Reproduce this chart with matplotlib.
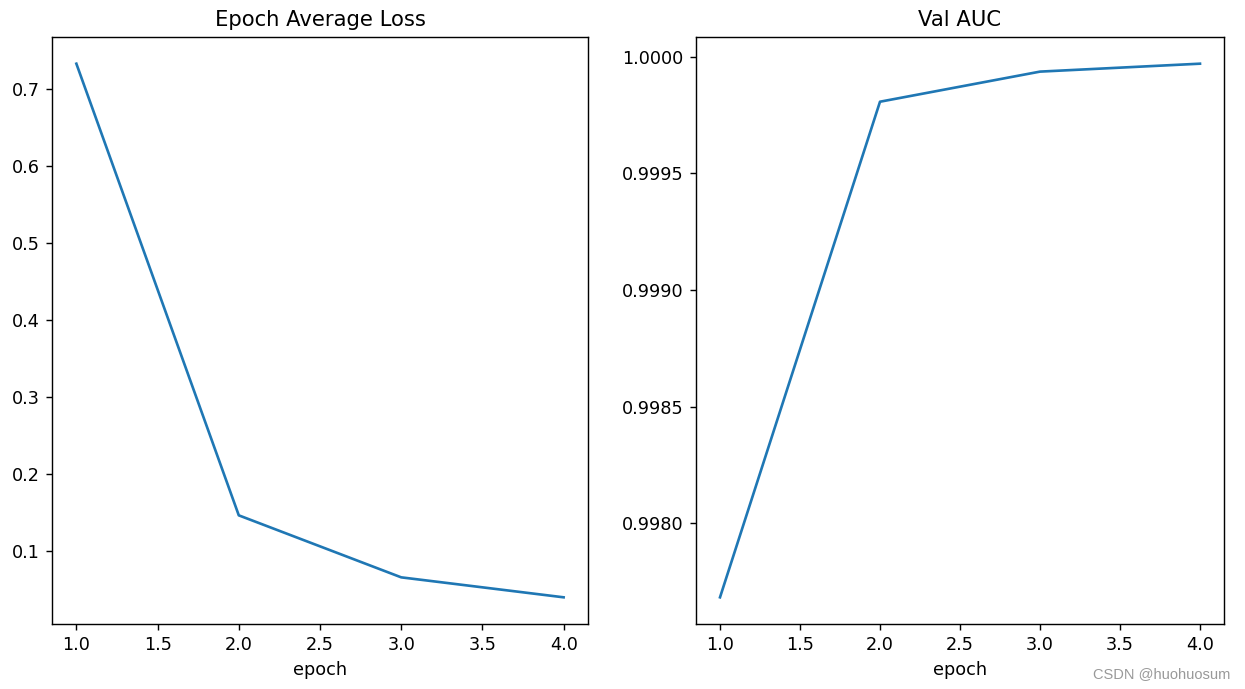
import matplotlib.pyplot as plt

epochs = [1, 2, 3, 4]
epoch_loss = [0.7324, 0.1467, 0.0663, 0.0404]
val_auc = [0.997683, 0.999807, 0.999936, 0.999970]

W, H = 1245, 689
fig = plt.figure(figsize=(W / 127, H / 127), dpi=127)

bottom = 1 - 624 / H
height = (624 - 37) / H

ax1 = fig.add_axes([52 / W, bottom, (588 - 52) / W, height])
ax1.set_title("Epoch Average Loss")
ax1.plot(epochs, epoch_loss)
ax1.set_xlabel("epoch")

ax2 = fig.add_axes([696 / W, bottom, (1224 - 696) / W, height])
ax2.set_title("Val AUC")
ax2.plot(epochs, val_auc)
ax2.set_xlabel("epoch")
ax2.ticklabel_format(useOffset=False)

fig.text(0.988, 0.022, "CSDN @huohuosum", ha="right", va="center", color="#999999",
         fontsize=8.3, family="Liberation Sans")

fig.savefig("out.png", dpi=127)
